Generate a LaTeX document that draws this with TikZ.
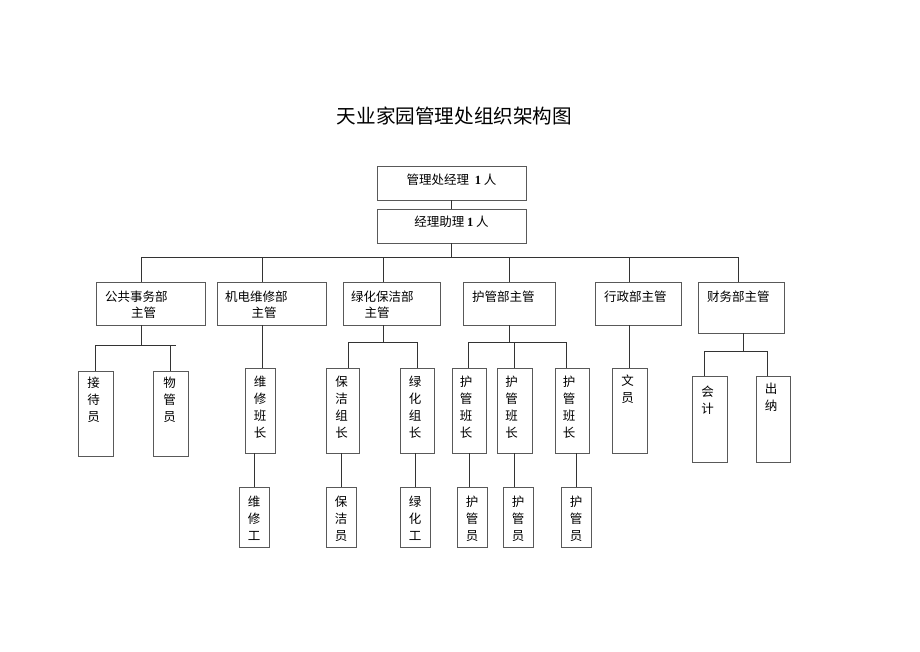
\documentclass[tikz,border=0pt]{standalone}
\usepackage{fontspec}
\setmainfont{Noto Sans CJK SC}
\newfontfamily\latnum{Liberation Serif}
\begin{document}
\begin{tikzpicture}[x=1pt,y=-1pt,
  box/.style={draw=black!65,line width=0.9pt,inner sep=0pt},
  conn/.style={draw=black!80,line width=0.9pt},
  txt/.style={inner sep=0pt,font=\fontsize{12.5}{17}\selectfont},
  vtxt/.style={txt,align=center,anchor=north}]
\path[use as bounding box] (0,0) rectangle (920,651);

% title
\node[inner sep=0pt,font=\fontsize{19.6}{22}\selectfont] (title) at (454.5,116) {天业家园管理处组织架构图};

% top boxes
\node[box,minimum width=149pt,minimum height=34pt] (top) at (451.5,183) {};
\node[txt] (topt) at (451.5,180) {管理处经理\ \ {\latnum\bfseries 1} 人};
\node[box,minimum width=149pt,minimum height=34pt] (asst) at (451.5,226) {};
\node[txt] (asstt) at (451.5,222) {经理助理 {\latnum\bfseries 1} 人};

% level 2
\node[box,minimum width=109pt,minimum height=43pt] (d1) at (150.5,303.5) {};
\node[box,minimum width=109pt,minimum height=43pt] (d2) at (271.5,303.5) {};
\node[box,minimum width=97pt,minimum height=43pt] (d3) at (391.5,303.5) {};
\node[box,minimum width=92pt,minimum height=43pt] (d4) at (509,303.5) {};
\node[box,minimum width=86pt,minimum height=43pt] (d5) at (638,303.5) {};
\node[box,minimum width=86pt,minimum height=51pt] (d6) at (741,307.5) {};
\node[txt,anchor=west] (d1a) at (105,297) {公共事务部};
\node[txt] (d1b) at (143.5,313) {主管};
\node[txt,anchor=west] (d2a) at (225,297) {机电维修部};
\node[txt] (d2b) at (264,313) {主管};
\node[txt,anchor=west] (d3a) at (351,297) {绿化保洁部};
\node[txt] (d3b) at (377,313) {主管};
\node[txt,anchor=west] (d4a) at (472,297) {护管部主管};
\node[txt,anchor=west] (d5a) at (604,297) {行政部主管};
\node[txt,anchor=west] (d6a) at (707,297) {财务部主管};

% level 3 boxes
\node[box,minimum width=35pt,minimum height=85pt] (a1) at (95.5,413.5) {};
\node[box,minimum width=35pt,minimum height=85pt] (a2) at (170.5,413.5) {};
\node[box,minimum width=30pt,minimum height=85pt] (b1) at (260,410.5) {};
\node[box,minimum width=30pt,minimum height=60pt] (b2) at (254,517) {};
\node[box,minimum width=33pt,minimum height=85pt] (c1) at (342.5,410.5) {};
\node[box,minimum width=34pt,minimum height=85pt] (c2) at (417,410.5) {};
\node[box,minimum width=30pt,minimum height=60pt] (c3) at (341,517) {};
\node[box,minimum width=30pt,minimum height=60pt] (c4) at (415,517) {};
\node[box,minimum width=34pt,minimum height=85pt] (e1) at (469,410.5) {};
\node[box,minimum width=35pt,minimum height=85pt] (e2) at (514.5,410.5) {};
\node[box,minimum width=34pt,minimum height=85pt] (e3) at (572,410.5) {};
\node[box,minimum width=30pt,minimum height=60pt] (f1) at (472,517) {};
\node[box,minimum width=30pt,minimum height=60pt] (f2) at (518,517) {};
\node[box,minimum width=30pt,minimum height=60pt] (f3) at (576,517) {};
\node[box,minimum width=35pt,minimum height=85pt] (g1) at (629.5,410.5) {};
\node[box,minimum width=35pt,minimum height=86pt] (h1) at (709.5,419) {};
\node[box,minimum width=34pt,minimum height=86pt] (h2) at (773,419) {};

% level 3 texts
\node[vtxt] (a1t) at ([xshift=-2pt,yshift=-6pt]a1.north) {接\\待\\员};
\node[vtxt] (a2t) at ([xshift=-1pt,yshift=-6pt]a2.north) {物\\管\\员};
\node[vtxt] (b1t) at ([yshift=-8pt]b1.north) {维\\修\\班\\长};
\node[vtxt] (b2t) at ([yshift=-9pt]b2.north) {维\\修\\工};
\node[vtxt] (c1t) at ([xshift=-1pt,yshift=-8pt]c1.north) {保\\洁\\组\\长};
\node[vtxt] (c2t) at ([xshift=-2pt,yshift=-8pt]c2.north) {绿\\化\\组\\长};
\node[vtxt] (c3t) at ([yshift=-9pt]c3.north) {保\\洁\\员};
\node[vtxt] (c4t) at ([yshift=-9pt]c4.north) {绿\\化\\工};
\node[vtxt] (e1t) at ([xshift=-3pt,yshift=-8pt]e1.north) {护\\管\\班\\长};
\node[vtxt] (e2t) at ([xshift=-3pt,yshift=-8pt]e2.north) {护\\管\\班\\长};
\node[vtxt] (e3t) at ([xshift=-3pt,yshift=-8pt]e3.north) {护\\管\\班\\长};
\node[vtxt] (f1t) at ([yshift=-9pt]f1.north) {护\\管\\员};
\node[vtxt] (f2t) at ([yshift=-9pt]f2.north) {护\\管\\员};
\node[vtxt] (f3t) at ([yshift=-9pt]f3.north) {护\\管\\员};
\node[vtxt] (g1t) at ([xshift=-2pt,yshift=-7pt]g1.north) {文\\员};
\node[vtxt] (h1t) at ([xshift=-2pt,yshift=-10pt]h1.north) {会\\计};
\node[vtxt] (h2t) at ([xshift=-2pt,yshift=-7pt]h2.north) {出\\纳};

% junction coordinates
\coordinate (j1) at (141,257);
\coordinate (j2) at (262,257);
\coordinate (j3) at (383,257);
\coordinate (j4) at (509,257);
\coordinate (j5) at (629,257);
\coordinate (j6) at (738,257);
\coordinate (k1) at (141,345);
\coordinate (k1r) at (176,345);
\coordinate (k3) at (383,342);
\coordinate (k3a) at (348,342);
\coordinate (k3b) at (417,342);
\coordinate (k4) at (509,342);
\coordinate (k4a) at (468,342);
\coordinate (k4b) at (514,342);
\coordinate (k4c) at (566,342);
\coordinate (k6) at (743,351);
\coordinate (k6a) at (704,351);
\coordinate (k6b) at (767,351);

% connectors
\draw[conn] (top.south) -- (asst.north);
\draw[conn] (asst.south) -- (asst.south |- j1);
\draw[conn] (j1) -- (j6);
\draw[conn] (j1) -- (j1 |- d1.north);
\draw[conn] (j2) -- (j2 |- d2.north);
\draw[conn] (j3) -- (j3 |- d3.north);
\draw[conn] (j4) -- (j4 |- d4.north);
\draw[conn] (j5) -- (j5 |- d5.north);
\draw[conn] (j6) -- (j6 |- d6.north);

\draw[conn] (k1 |- d1.south) -- (k1);
\draw[conn] (a1.north |- k1) -- (k1r);
\draw[conn] (a1.north |- k1) -- (a1.north);
\draw[conn] (a2.north |- k1) -- (a2.north);

\draw[conn] (j2 |- d2.south) -- (j2 |- b1.north);
\draw[conn] (b2.north |- b1.south) -- (b2.north);

\draw[conn] (k3 |- d3.south) -- (k3);
\draw[conn] (k3a) -- (k3b);
\draw[conn] (k3a) -- (k3a |- c1.north);
\draw[conn] (k3b) -- (k3b |- c2.north);
\draw[conn] (c3.north |- c1.south) -- (c3.north);
\draw[conn] (c4.north |- c2.south) -- (c4.north);

\draw[conn] (k4 |- d4.south) -- (k4);
\draw[conn] (k4a) -- (k4c);
\draw[conn] (k4a) -- (k4a |- e1.north);
\draw[conn] (k4b) -- (k4b |- e2.north);
\draw[conn] (k4c) -- (k4c |- e3.north);
\draw[conn] (e1.south) -- (e1.south |- f1.north);
\draw[conn] (e2.south -| k4b) -- (k4b |- f2.north);
\draw[conn] (f3.north |- e3.south) -- (f3.north);

\draw[conn] (j5 |- d5.south) -- (j5 |- g1.north);

\draw[conn] (k6 |- d6.south) -- (k6);
\draw[conn] (k6a) -- (k6b);
\draw[conn] (k6a) -- (k6a |- h1.north);
\draw[conn] (k6b) -- (k6b |- h2.north);
\end{tikzpicture}
\end{document}
